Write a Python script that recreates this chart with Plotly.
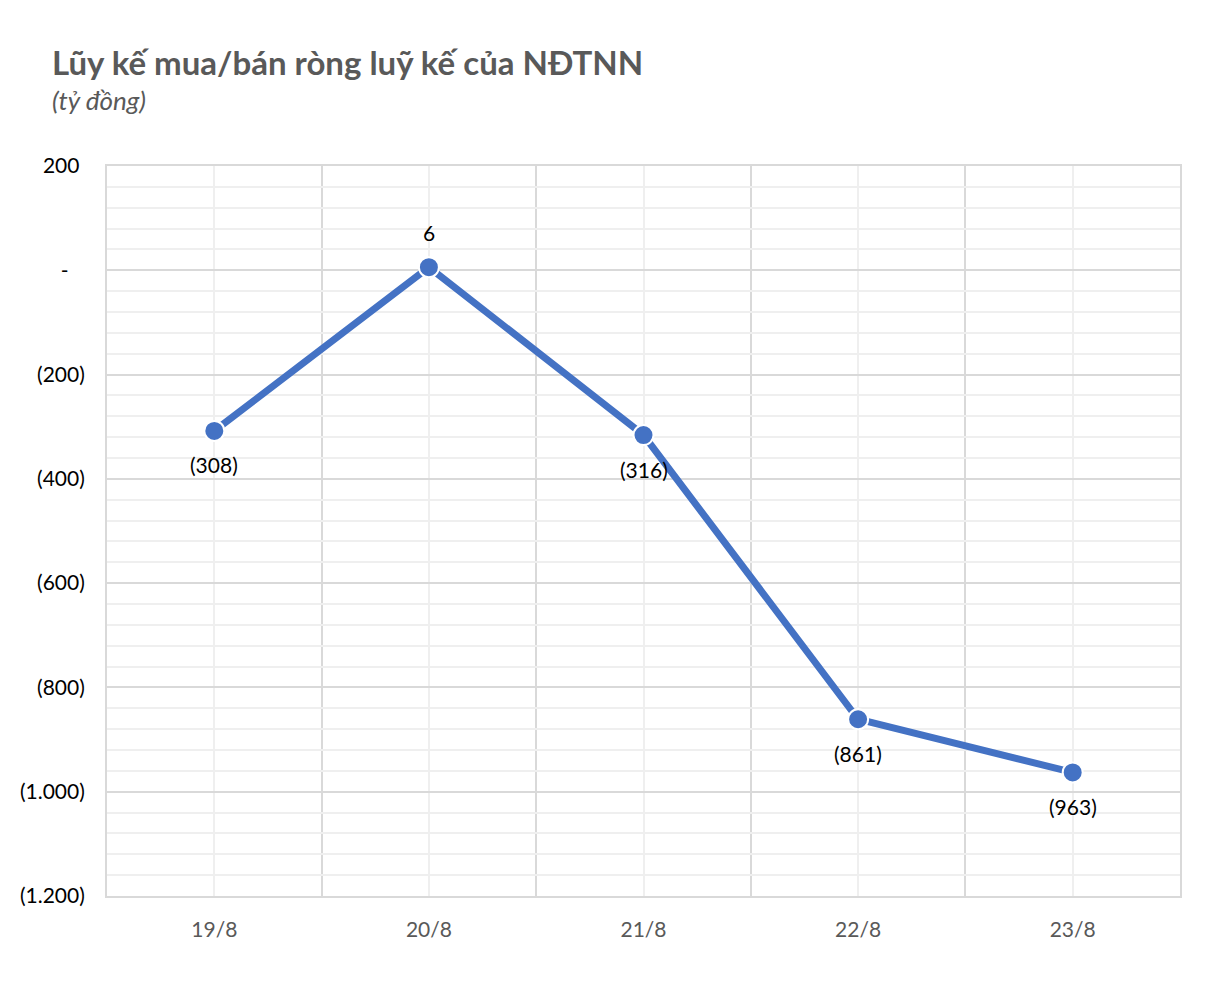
import plotly.graph_objects as go

categories = ["19/8", "20/8", "21/8", "22/8", "23/8"]
values = [-308, 6, -316, -861, -963]
label_above = [False, True, False, False, False]
y_tick_vals = [-1200, -1000, -800, -600, -400, -200, 0, 200]
y_tick_text = ["(1.200)", "(1.000)", "(800)", "(600)", "(400)", "(200)",
               "-\u00a0\u00a0\u00a0", "200\u00a0"]

def fmt(v):
    s = f"{abs(v):,}".replace(",", ".")
    return f"({s})" if v < 0 else s

FONT = "Lato"
xs = list(range(len(categories)))

fig = go.Figure()
fig.add_trace(go.Scatter(
    x=xs, y=values, mode="lines+markers",
    line=dict(color="#4472C4", width=7),
    marker=dict(size=20, color="#4472C4", line=dict(color="white", width=2)),
    cliponaxis=False, showlegend=False,
))

annotations = [
    dict(x=x, y=v, xref="x", yref="y", text=fmt(v), showarrow=False,
         yshift=35 if up else -34, xanchor="center", yanchor="middle",
         font=dict(family=FONT, size=21, color="#000000"))
    for x, v, up in zip(xs, values, label_above)
]
annotations += [
    dict(text="<b>Lũy kế mua/bán ròng luỹ kế của NĐTNN</b>", xref="paper", yref="paper",
         x=(50 - 107) / 1073, y=(896 - 62) / 730, xanchor="left", yanchor="middle",
         showarrow=False, font=dict(family=FONT, size=33, color="#595959")),
    dict(text="<i>(tỷ đồng)</i>", xref="paper", yref="paper",
         x=(50 - 107) / 1073, y=(896 - 100) / 730, xanchor="left", yanchor="middle",
         showarrow=False, font=dict(family=FONT, size=26, color="#595959")),
]

fig.update_layout(
    width=1226, height=982,
    margin=dict(l=107, r=46, t=166, b=86),
    paper_bgcolor="white", plot_bgcolor="white",
    font=dict(family=FONT),
    xaxis=dict(
        range=[-0.5, len(categories) - 0.5],
        tickmode="array", tickvals=xs, ticktext=categories,
        tickfont=dict(family=FONT, size=21, color="#595959"),
        showgrid=True, gridcolor="#EFEFEF", gridwidth=2,
        ticks="", ticklen=0, zeroline=False,
        showline=True, linecolor="#D9D9D9", linewidth=2, mirror=True,
        minor=dict(tickvals=[i - 0.5 for i in range(len(categories) + 1)],
                   showgrid=True, gridcolor="#D9D9D9", gridwidth=2, ticks=""),
        ticklabelstandoff=14,
    ),
    yaxis=dict(
        range=[-1200, 200],
        tickmode="array", tickvals=y_tick_vals, ticktext=y_tick_text,
        tickfont=dict(family=FONT, size=21, color="#000000"),
        showgrid=True, gridcolor="#D9D9D9", gridwidth=2,
        zeroline=False, ticks="",
        showline=True, linecolor="#D9D9D9", linewidth=2, mirror=True,
        minor=dict(dtick=40, tick0=0, showgrid=True, gridcolor="#EFEFEF", gridwidth=2, ticks=""),
        ticklabelstandoff=16,
    ),
    annotations=annotations,
)

fig.write_html("out.html")
